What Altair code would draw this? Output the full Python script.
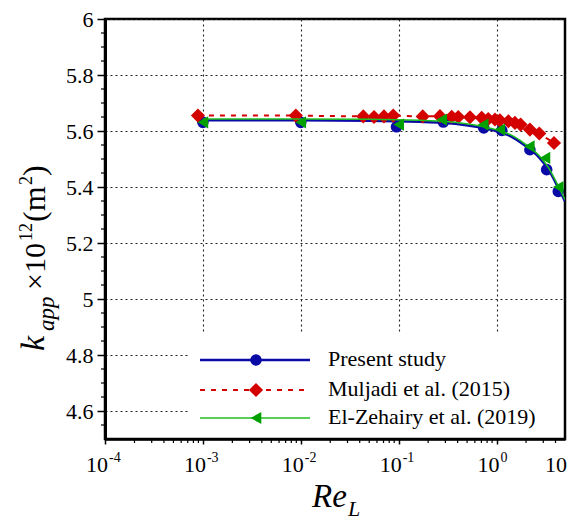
import altair as alt
import pandas as pd

# ---------------- data ----------------
present_x = [0.001, 0.01, 0.095, 0.286, 0.74, 1.13, 2.19, 3.25, 4.27]
present_y = [5.631, 5.631, 5.615, 5.632, 5.611, 5.602, 5.533, 5.462, 5.384]

present_fit_x = [0.001, 0.01, 0.05, 0.1, 0.3, 0.7, 1.0, 1.4, 1.9, 2.7, 3.4, 4.2, 5.0]
present_fit_y = [5.638, 5.638, 5.637, 5.635, 5.629, 5.612, 5.599, 5.581, 5.551, 5.507, 5.462, 5.402, 5.349]

muljadi_x = [0.00089, 0.0089, 0.0435, 0.056, 0.0708, 0.088, 0.176, 0.264, 0.348, 0.406,
             0.535, 0.704, 0.822, 0.964, 1.08, 1.32, 1.54, 1.76, 2.19, 2.73, 3.86]
muljadi_y = [5.655, 5.655, 5.652, 5.650, 5.652, 5.655, 5.652, 5.653, 5.651, 5.650,
             5.649, 5.647, 5.643, 5.641, 5.638, 5.635, 5.629, 5.623, 5.605, 5.591, 5.557]

elz_x = [0.001, 0.01, 0.1, 0.275, 0.73, 1.08, 2.16, 3.12, 4.27]
elz_y = [5.631, 5.631, 5.623, 5.641, 5.623, 5.605, 5.545, 5.504, 5.400]

elz_fit_x = [0.001, 0.01, 0.05, 0.1, 0.3, 0.7, 1.0, 1.4, 1.9, 2.7, 3.4, 4.2, 5.0]
elz_fit_y = [5.643, 5.643, 5.642, 5.640, 5.634, 5.617, 5.604, 5.586, 5.557, 5.513, 5.468, 5.408, 5.355]

x_decades = [1e-4, 1e-3, 1e-2, 1e-1, 1.0]
x_exponents = ["-4", "-3", "-2", "-1", "0"]
x_minor = [2e-4, 3e-4, 4e-4, 5e-4, 6e-4, 7e-4, 8e-4, 9e-4,
           2e-3, 3e-3, 4e-3, 5e-3, 6e-3, 7e-3, 8e-3, 9e-3,
           2e-2, 3e-2, 4e-2, 5e-2, 6e-2, 7e-2, 8e-2, 9e-2,
           0.2, 0.3, 0.4, 0.5, 0.6, 0.7, 0.8, 0.9,
           2.0, 3.0, 4.0]
y_ticks = [4.6, 4.8, 5.0, 5.2, 5.4, 5.6, 5.8, 6.0]
y_minor = [4.55, 4.65, 4.7, 4.75, 4.85, 4.9, 4.95, 5.05, 5.1, 5.15, 5.25, 5.3, 5.35,
           5.45, 5.5, 5.55, 5.65, 5.7, 5.75, 5.85, 5.9, 5.95]

legend_labels = ["Present study", "Muljadi et al. (2015)", "El-Zehairy et al. (2019)"]

FONT = "Liberation Serif"
BLUE = "#0a0aa6"
RED = "#d40000"
GREEN = "#1fbf1f"
GREEN_MK = "#00a000"

W, H = 460, 420

xscale = alt.Scale(type="log", domain=[1e-4, 5])
yscale = alt.Scale(domain=[4.5, 6.0])

xaxis = alt.Axis(values=x_decades, labels=False, title=None, tickSize=5, tickWidth=1.5,
                 tickColor="black", grid=True, gridColor="#222222", gridDash=[2, 3],
                 gridWidth=1.1, gridOpacity=1, domainColor="black", domainWidth=2.5)
yaxis = alt.Axis(values=y_ticks, format=".1~f", title=None, tickSize=8, tickWidth=1.5,
                 tickColor="black", labelFont=FONT, labelFontSize=22, labelColor="black",
                 labelPadding=4, grid=True, gridColor="#222222", gridDash=[2, 3],
                 gridWidth=1.1, gridOpacity=1, domainColor="black", domainWidth=3)

dummy = pd.DataFrame({"a": [0]})

present_fit = pd.DataFrame({"x": present_fit_x, "y": present_fit_y})
present = pd.DataFrame({"x": present_x, "y": present_y})
mul = pd.DataFrame({"x": muljadi_x, "y": muljadi_y})
elz = pd.DataFrame({"x": elz_x, "y": elz_y})
elz_fit = pd.DataFrame({"x": elz_fit_x, "y": elz_fit_y})

blue_line = alt.Chart(present_fit).mark_line(color=BLUE, strokeWidth=2.5, interpolate="monotone", clip=True).encode(
    x=alt.X("x:Q", scale=xscale, axis=xaxis),
    y=alt.Y("y:Q", scale=yscale, axis=yaxis),
)
blue_pts = alt.Chart(present).mark_point(shape="circle", filled=True, color=BLUE, size=135, opacity=1, clip=True).encode(
    x=alt.X("x:Q", scale=xscale), y=alt.Y("y:Q", scale=yscale))
red_line = alt.Chart(mul).mark_line(color=RED, strokeWidth=2, strokeDash=[5, 6], clip=True).encode(
    x=alt.X("x:Q", scale=xscale), y=alt.Y("y:Q", scale=yscale))
red_pts = alt.Chart(mul).mark_point(shape="diamond", filled=True, color=RED, size=200, opacity=1, clip=True).encode(
    x=alt.X("x:Q", scale=xscale), y=alt.Y("y:Q", scale=yscale))
green_line = alt.Chart(elz_fit).mark_line(color=GREEN, strokeWidth=1.5, interpolate="monotone", clip=True).encode(
    x=alt.X("x:Q", scale=xscale), y=alt.Y("y:Q", scale=yscale))
green_pts = alt.Chart(elz).mark_point(shape="triangle-left", filled=True, color=GREEN_MK, size=150, opacity=1, clip=True).encode(
    x=alt.X("x:Q", scale=xscale), y=alt.Y("y:Q", scale=yscale))

# minor ticks
ymin_df = pd.DataFrame({"y": y_minor})
xmin_df = pd.DataFrame({"x": x_minor})
ymin_ticks = alt.Chart(ymin_df).mark_rule(color="black", strokeWidth=1.2).encode(
    y=alt.Y("y:Q", scale=yscale), x=alt.value(-4), x2=alt.value(-1))
xmin_ticks = alt.Chart(xmin_df).mark_rule(color="black", strokeWidth=1.2).encode(
    x=alt.X("x:Q", scale=xscale), y=alt.value(H + 1), y2=alt.value(H + 4))

# x tick labels 10^n
xl = pd.DataFrame({"x": x_decades, "e": x_exponents, "b": ["10"] * len(x_decades)})
xlab_base = alt.Chart(xl).mark_text(font=FONT, fontSize=22, align="right", baseline="alphabetic", dx=3, color="black").encode(
    x=alt.X("x:Q", scale=xscale), y=alt.value(453), text="b:N")
xlab_exp = alt.Chart(xl).mark_text(font=FONT, fontSize=14, align="left", baseline="alphabetic", dx=4, color="black").encode(
    x=alt.X("x:Q", scale=xscale), y=alt.value(443), text="e:N")
xlab_clip = alt.Chart(dummy).mark_text(font=FONT, fontSize=22, align="left", baseline="alphabetic", text="10", color="black").encode(
    x=alt.value(440), y=alt.value(453))


def txt(s, x, y, size, italic=False, angle=0):
    kw = dict(font=FONT, fontSize=size, align="left", baseline="alphabetic", text=s, color="black")
    if italic:
        kw["fontStyle"] = "italic"
    if angle:
        kw["angle"] = angle
    return alt.Chart(dummy).mark_text(**kw).encode(x=alt.value(x), y=alt.value(y))


# y title pieces (rotated; positions relative to the plot's top-left corner)
ytitle = [
    txt("k", -61, 332, 34, True, 270),
    txt("app", -51, 312, 23, True, 270),
    txt("\u00d710", -60, 271, 30, False, 270),
    txt("12", -73, 222, 18, False, 270),
    txt("(m", -60, 203, 32, False, 270),
    txt("2", -73, 166, 18, False, 270),
    txt(")", -60, 157, 32, False, 270),
]
# x title
xtitle = [
    txt("Re", 207, 488, 33, True),
    txt("L", 243, 497, 22, True),
]

# legend
legend_bg = alt.Chart(dummy).mark_rect(color="white").encode(
    x=alt.value(85), x2=alt.value(458), y=alt.value(315), y2=alt.value(418))
leg = []
rows = [341, 371, 399]
leg.append(alt.Chart(dummy).mark_rule(color=BLUE, strokeWidth=2.5).encode(
    x=alt.value(95), x2=alt.value(205), y=alt.value(rows[0])))
leg.append(alt.Chart(dummy).mark_point(shape="circle", filled=True, color=BLUE, size=135, opacity=1).encode(
    x=alt.value(151), y=alt.value(rows[0])))
leg.append(alt.Chart(dummy).mark_rule(color=RED, strokeWidth=2, strokeDash=[5, 6]).encode(
    x=alt.value(95), x2=alt.value(205), y=alt.value(rows[1])))
leg.append(alt.Chart(dummy).mark_point(shape="diamond", filled=True, color=RED, size=200, opacity=1).encode(
    x=alt.value(151), y=alt.value(rows[1])))
leg.append(alt.Chart(dummy).mark_rule(color=GREEN, strokeWidth=1.5).encode(
    x=alt.value(95), x2=alt.value(205), y=alt.value(rows[2])))
leg.append(alt.Chart(dummy).mark_point(shape="triangle-left", filled=True, color=GREEN_MK, size=150, opacity=1).encode(
    x=alt.value(151), y=alt.value(rows[2])))
for lab, r in zip(legend_labels, rows):
    leg.append(txt(lab, 223, r + 6, 22))

chart = alt.layer(
    blue_line, legend_bg, blue_pts, red_line, red_pts, green_line, green_pts,
    ymin_ticks, xmin_ticks, xlab_base, xlab_exp, xlab_clip,
    *ytitle, *xtitle, *leg,
).properties(
    width=W, height=H,
    autosize=alt.AutoSizeParams(type="none"),
    padding={"left": 105, "top": 19, "right": 2, "bottom": 81},
).configure_view(stroke="black", strokeWidth=2.5)

chart.save("out.html", embed_options={"renderer": "svg", "actions": False})
